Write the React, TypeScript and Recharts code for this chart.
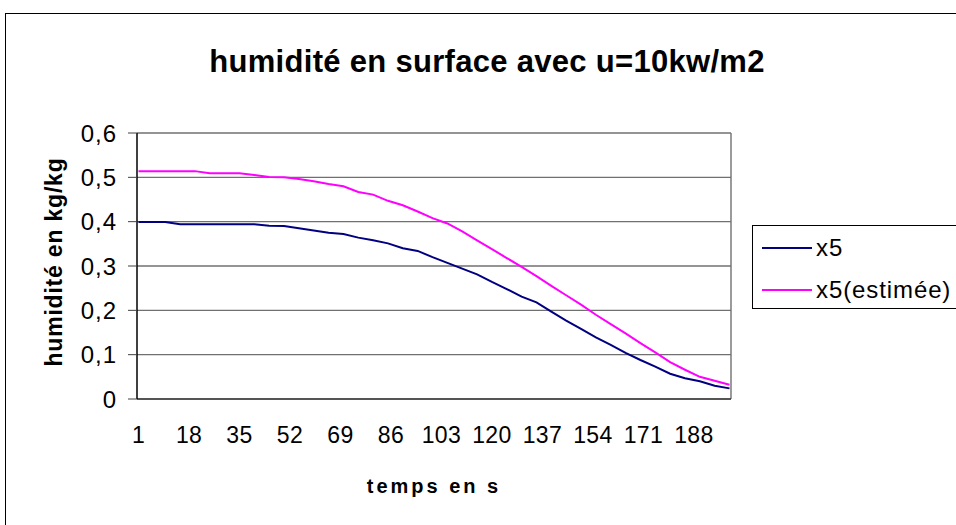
import React from 'react';
import { LineChart, Line, XAxis, YAxis, CartesianGrid, Legend, ReferenceLine } from 'recharts';

// temps en s (échantillonné toutes les 5 s)
const times = [1, 5, 10, 15, 20, 25, 30, 35, 40, 45, 50, 55, 60, 65, 70, 75, 80, 85, 90, 95, 100,
  105, 110, 115, 120, 125, 130, 135, 140, 145, 150, 155, 160, 165, 170, 175, 180, 185, 190, 195, 200];

const x5 = [0.399, 0.399, 0.399, 0.394, 0.394, 0.394, 0.394, 0.394, 0.394, 0.391, 0.390,
  0.385, 0.380, 0.375, 0.372, 0.364, 0.358, 0.351, 0.340, 0.334, 0.320,
  0.307, 0.294, 0.281, 0.264, 0.248, 0.231, 0.218, 0.197, 0.177, 0.158,
  0.139, 0.122, 0.104, 0.088, 0.073, 0.057, 0.047, 0.040, 0.030, 0.024];

const x5Estimee = [0.514, 0.514, 0.514, 0.514, 0.514, 0.509, 0.509, 0.509, 0.505, 0.501, 0.500,
  0.496, 0.491, 0.485, 0.480, 0.467, 0.461, 0.447, 0.437, 0.423, 0.408,
  0.396, 0.378, 0.358, 0.338, 0.318, 0.298, 0.277, 0.255, 0.234, 0.213,
  0.190, 0.169, 0.148, 0.126, 0.105, 0.083, 0.066, 0.050, 0.041, 0.032];

const xTicks = [1, 18, 35, 52, 69, 86, 103, 120, 137, 154, 171, 188];
const yTicks = [0, 0.1, 0.2, 0.3, 0.4, 0.5, 0.6];

const data = times.map((t, i) => ({ t, x5: x5[i], est: x5Estimee[i] }));

const font = "'Liberation Sans', Arial, sans-serif";

const LegendBox = (props: any) => (
  <div style={{ border: '1px solid #000', background: '#fff', height: 84, boxSizing: 'border-box', fontFamily: font, fontSize: 24, letterSpacing: 0.9 }}>
    {(props.payload || []).map((p: any, i: number) => (
      <div key={i} style={{ position: 'absolute', left: 10, top: 9 + i * 42, height: 28, display: 'flex', alignItems: 'center', whiteSpace: 'nowrap' }}>
        <span style={{ display: 'inline-block', width: 50, height: 2, background: p.color, marginRight: 4 }} />
        <span>{p.value}</span>
      </div>
    ))}
  </div>
);

export default function App() {
  return (
    <div style={{ position: 'absolute', left: 0, top: 0, width: 956, height: 525, overflow: 'hidden', background: '#fff' }}>
      <div style={{ position: 'absolute', left: 5, top: 13, width: 1000, height: 600, border: '1.5px solid #000' }} />
      <div style={{ position: 'absolute', left: 87, top: 46, width: 800, textAlign: 'center', fontFamily: font, fontWeight: 'bold', fontSize: 31, lineHeight: '31px', letterSpacing: 0.3 }}>
        humidité en surface avec u=10kw/m2
      </div>
      <div style={{ position: 'absolute', left: 54 - 150, top: 262 - 14, width: 300, height: 28, lineHeight: '28px', textAlign: 'center', transform: 'rotate(-90deg)', fontFamily: font, fontWeight: 'bold', fontSize: 23, letterSpacing: 0.8 }}>
        humidité en kg/kg
      </div>
      <div style={{ position: 'absolute', left: 434 - 150, top: 486 - 12, width: 300, height: 24, lineHeight: '24px', textAlign: 'center', fontFamily: font, fontWeight: 'bold', fontSize: 20, letterSpacing: 3 }}>
        temps en s
      </div>
      <div style={{ position: 'absolute', left: 0, top: 0 }}>
        <LineChart width={956} height={525} data={data} margin={{ top: 133, right: 225, bottom: 86, left: 0 }}>
          <CartesianGrid vertical={false} stroke="#707070" strokeWidth={1.4} />
          <XAxis
            dataKey="t"
            type="number"
            domain={[0.5, 200.5]}
            ticks={xTicks}
            interval={0}
            height={40}
            tickLine={false}
            tickSize={0}
            tickMargin={28}
            axisLine={{ stroke: '#404040', strokeWidth: 1.5 }}
            tick={{ fill: '#000', fontSize: 23, fontFamily: font, letterSpacing: 0.3 }}
          />
          <YAxis
            type="number"
            domain={[0, 0.6]}
            ticks={yTicks}
            width={137}
            tickSize={9}
            tickMargin={11}
            tickLine={{ stroke: '#404040' }}
            axisLine={{ stroke: '#000', strokeWidth: 1.5 }}
            tickFormatter={(v: number) => (v === 0 ? '0' : v.toFixed(1).replace('.', ','))}
            tick={{ fill: '#000', fontSize: 24, fontFamily: font, letterSpacing: 1 }}
          />
          <ReferenceLine x={200.5} stroke="#707070" strokeWidth={1.4} />
          <Legend
            layout="vertical"
            align="center"
            verticalAlign="middle"
            wrapperStyle={{ left: 752, top: 225, width: 230 }}
            content={LegendBox}
          />
          <Line type="linear" dataKey="x5" name="x5" stroke="#000080" strokeWidth={2} dot={false} isAnimationActive={false} />
          <Line type="linear" dataKey="est" name="x5(estimée)" stroke="#FF00FF" strokeWidth={2} dot={false} isAnimationActive={false} />
        </LineChart>
      </div>
    </div>
  );
}
